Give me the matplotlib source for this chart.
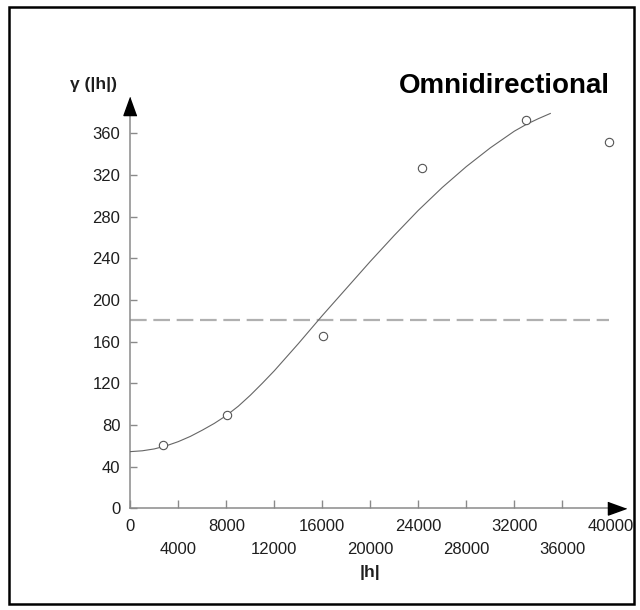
import numpy as np
import matplotlib
matplotlib.use('Agg')
import matplotlib.pyplot as plt
from matplotlib.patches import Rectangle

plt.rcParams['font.family'] = ['Liberation Sans', 'DejaVu Sans']

# Experimental semivariogram points
lag = [2700, 8050, 16050, 24300, 32950, 39850]
gamma = [61, 90, 165, 327, 373, 352]

# Fitted model curve
model_h = [0, 1000, 2000, 3000, 4000, 5000, 6000, 7000, 8000, 9000,
           10000, 11000, 12000, 13000, 14000, 15000, 16000, 17000, 18000, 19000,
           20000, 21000, 22000, 23000, 24000, 25000, 26000, 27000, 28000, 29000,
           30000, 31000, 32000, 33000, 34000, 35000]
model_g = [54.4, 55.2, 57, 60, 64, 69, 75, 81.5, 89, 98,
           108.5, 120, 132, 145, 158, 171.5, 185, 198, 211, 224,
           237, 249.5, 262, 274, 286, 297, 308, 318, 328, 337,
           346, 354, 362, 368.5, 374, 379]

sill = 181

major_ticks = [0, 8000, 16000, 24000, 32000, 40000]
minor_ticks = [4000, 12000, 20000, 28000, 36000]
y_ticks = [0, 40, 80, 120, 160, 200, 240, 280, 320, 360]

axis_col = '#8a8a8a'
text_col = '#1e1e1e'

fig = plt.figure(figsize=(6.4, 6.1), dpi=100)
W, H = 640, 610

# axes placed so that 0..41500 and 0..400 land where the reference has them
x_max, y_max = 41500, 400
ax = fig.add_axes([130.3 / W, (H - 508.3) / H, (628.3 - 130.3) / W, (508.3 - 91.6) / H])
ax.set_xlim(0, x_max)
ax.set_ylim(0, y_max)

# model curve and sill
ax.plot(model_h, model_g, color='#666666', lw=0.8, zorder=3)
ax.plot([0, 39900], [sill, sill], color='#b0b0b0', lw=1.6,
        dashes=(7.5, 3), zorder=2)
ax.plot(lag, gamma, 'o', ms=6, mfc='white', mec='#555555', mew=0.8, zorder=4,
        clip_on=False)

# axes with arrows
for s in ['top', 'right']:
    ax.spines[s].set_visible(False)
for s in ['left', 'bottom']:
    ax.spines[s].set_color(axis_col)
    ax.spines[s].set_linewidth(1.1)
y_arrow_base, y_arrow_tip = 379, 395
x_arrow_base, x_arrow_tip = 39830, 41330
ax.spines['left'].set_bounds(0, y_arrow_base)
ax.spines['bottom'].set_bounds(0, x_arrow_base)
ax.plot(x_arrow_tip, 0, marker=[(0, 0), (-18, -6.5), (-18, 6.5)], ms=26,
        color='black', clip_on=False, zorder=5)
ax.plot(0, y_arrow_tip, marker=[(0, 0), (-6.5, -18), (6.5, -18)], ms=26,
        color='black', clip_on=False, zorder=5)

ax.set_yticks(y_ticks)
ax.set_xticks(major_ticks)
ax.set_xticks(minor_ticks, minor=True)
ax.set_xticklabels([str(t) for t in major_ticks])
ax.set_xticklabels([str(t) for t in minor_ticks], minor=True)
ax.tick_params(axis='y', direction='in', length=5, width=1, color=axis_col,
               pad=7.2, labelsize=12, labelcolor=text_col)
ax.tick_params(axis='x', which='major', direction='in', length=6, width=1,
               color=axis_col, pad=8.0, labelsize=12, labelcolor=text_col)
ax.tick_params(axis='x', which='minor', direction='in', length=6, width=1,
               color=axis_col, pad=24.0, labelsize=12, labelcolor=text_col)
# hide the 40000 tick mark itself (the arrow sits there)
ax.xaxis.get_major_ticks()[-1].tick1line.set_visible(False)

fig.text(504 / W, 1 - 86 / H, 'Omnidirectional', fontsize=20, fontweight='bold',
         ha='center', va='center', color='black')
fig.text(94 / W, 1 - 85 / H, 'γ (|h|)', fontsize=12.5, fontweight='bold',
         ha='center', va='center', color=text_col)
fig.text(370 / W, 1 - 573 / H, '|h|', fontsize=12.5, fontweight='bold',
         ha='center', va='center', color=text_col)

# outer frame
fig.patches.append(Rectangle((9 / W, 1 - 604 / H), (634 - 9) / W, (604 - 7) / H,
                             transform=fig.transFigure, fill=False,
                             edgecolor='black', lw=1.8))

fig.savefig('out.png', dpi=100)
